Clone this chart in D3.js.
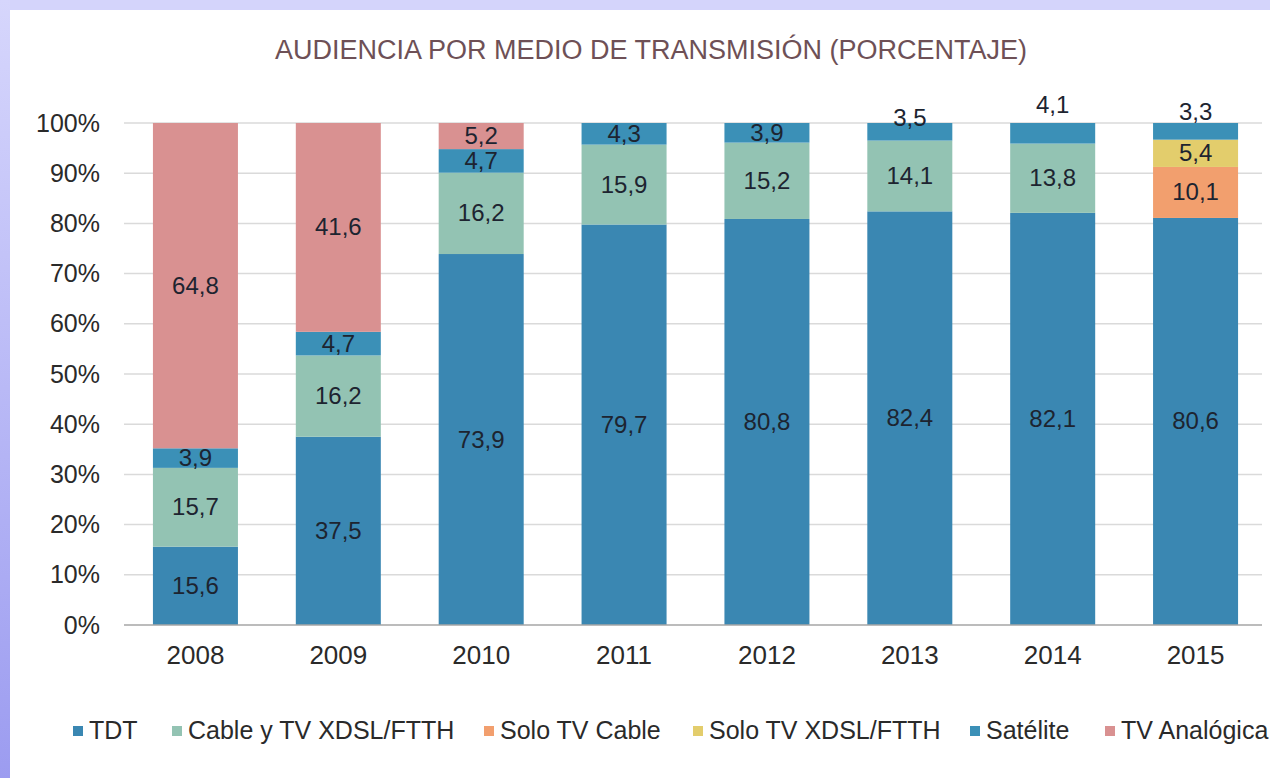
<!DOCTYPE html>
<html>
<head>
<meta charset="utf-8">
<script src="https://cdn.jsdelivr.net/npm/d3@7"></script>
<style>
  body { margin: 0; background: #fff; }
  svg { display: block; }
  text { font-family: "Liberation Sans", Arial, sans-serif; }
</style>
</head>
<body>
<div id="chart"></div>
<script>
var width = 1270,
	height = 778;

// data
var years = ['2008', '2009', '2010', '2011', '2012', '2013', '2014', '2015'];
var series = ['TDT', 'Cable y TV XDSL/FTTH', 'Solo TV Cable', 'Solo TV XDSL/FTTH', 'Satélite', 'TV Analógica'];
var tdt       = [15.6, 37.5, 73.9, 79.7, 80.8, 82.4, 82.1, 80.6];
var cableXdsl = [15.7, 16.2, 16.2, 15.9, 15.2, 14.1, 13.8, 0];
var soloCable = [0, 0, 0, 0, 0, 0, 0, 10.1];
var soloXdsl  = [0, 0, 0, 0, 0, 0, 0, 5.4];
var satelite  = [3.9, 4.7, 4.7, 4.3, 3.9, 3.5, 4.1, 3.3];
var analogica = [64.8, 41.6, 5.2, 0, 0, 0, 0, 0];
var yTicks = [0, 10, 20, 30, 40, 50, 60, 70, 80, 90, 100];

var colors = ['#3a87b2', '#93c3b3', '#f29f6e', '#e3cd6c', '#3b90b7', '#d99191'];

// manual nudges for labels excel pushed above the bar
var labelNudge = { '2013-Satélite': -14, '2014-Satélite': -28, '2015-Satélite': -19 };

var values = [tdt, cableXdsl, soloCable, soloXdsl, satelite, analogica];
var rows = years.map(function(y, i) {
	var r = { year: y }, total = 0;
	series.forEach(function(s, k) { r[s] = values[k][i]; total += values[k][i]; });
	r.total = total;
	return r;
});

var svg = d3.select('#chart').append('svg')
	.attr('width', width)
	.attr('height', height);

var defs = svg.append('defs');
var grad = defs.append('linearGradient').attr('id', 'side')
	.attr('x1', 0).attr('y1', 0).attr('x2', 0).attr('y2', 1);
grad.append('stop').attr('offset', '0%').attr('stop-color', '#d6d6fc');
grad.append('stop').attr('offset', '100%').attr('stop-color', '#9c9cf0');

// frame
svg.append('rect').attr('width', width).attr('height', 10).attr('fill', '#d4d4fb');
svg.append('rect').attr('width', 10).attr('height', height).attr('fill', 'url(#side)');

var x = d3.scaleBand()
	.domain(years)
	.range([124, 1267])
	.paddingInner(0.405)
	.paddingOuter(0.2025);

var y = d3.scaleLinear()
	.domain([0, 100])
	.range([625, 123]);

// title
svg.append('text')
	.attr('x', 651)
	.attr('y', 59)
	.attr('text-anchor', 'middle')
	.attr('font-size', 27)
	.attr('fill', '#6e5056')
	.text('AUDIENCIA POR MEDIO DE TRANSMISIÓN (PORCENTAJE)');

// grid
svg.append('g').selectAll('line')
	.data(yTicks.filter(function(t) { return t > 0; }))
	.enter().append('line')
	.attr('x1', 124).attr('x2', 1262)
	.attr('y1', function(d) { return y(d); })
	.attr('y2', function(d) { return y(d); })
	.attr('stroke', '#dadada')
	.attr('stroke-width', 1.5);

// y axis
var yAxis = svg.append('g')
	.attr('transform', 'translate(124,0)')
	.call(d3.axisLeft(y).tickValues(yTicks).tickSize(0).tickPadding(24)
		.tickFormat(function(d) { return d + '%'; }));
yAxis.select('.domain').remove();
yAxis.selectAll('text')
	.attr('font-size', 25)
	.attr('fill', '#2a2a2a')
	.attr('font-family', '"Liberation Sans", Arial, sans-serif');

// bars
var stack = d3.stack().keys(series)
	.value(function(d, key) { return d[key] / d.total * 100; });
var layers = stack(rows);

var layer = svg.append('g').selectAll('g')
	.data(layers)
	.enter().append('g')
	.attr('fill', function(d, i) { return colors[i]; });

layer.selectAll('rect')
	.data(function(d) { return d; })
	.enter().append('rect')
	.attr('x', function(d) { return x(d.data.year); })
	.attr('width', x.bandwidth())
	.attr('y', function(d) { return y(d[1]); })
	.attr('height', function(d) { return y(d[0]) - y(d[1]); });

// baseline
svg.append('line')
	.attr('x1', 124).attr('x2', 1262)
	.attr('y1', y(0)).attr('y2', y(0))
	.attr('stroke', '#a6a6a6')
	.attr('stroke-width', 1.5);

// value labels
layers.forEach(function(l) {
	svg.append('g').selectAll('text')
		.data(l.filter(function(d) { return d.data[l.key] > 0; }))
		.enter().append('text')
		.attr('x', function(d) { return x(d.data.year) + x.bandwidth() / 2; })
		.attr('y', function(d) {
			var n = labelNudge[d.data.year + '-' + l.key] || 0;
			return (y(d[0]) + y(d[1])) / 2 + 8 + n;
		})
		.attr('text-anchor', 'middle')
		.attr('font-size', 24)
		.attr('fill', '#1d2430')
		.text(function(d) { return String(d.data[l.key]).replace('.', ','); });
});

// x axis labels
var xAxis = svg.append('g')
	.attr('transform', 'translate(0,' + y(0) + ')')
	.call(d3.axisBottom(x).tickSize(0).tickPadding(21));
xAxis.select('.domain').remove();
xAxis.selectAll('text')
	.attr('font-size', 26)
	.attr('fill', '#2a2a2a')
	.attr('font-family', '"Liberation Sans", Arial, sans-serif');

// legend
var legendX = [73, 172, 484, 693, 970, 1105];
var legend = svg.append('g').selectAll('g')
	.data(series)
	.enter().append('g')
	.attr('transform', function(d, i) { return 'translate(' + legendX[i] + ',731)'; });

legend.append('rect')
	.attr('x', 0).attr('y', -5)
	.attr('width', 10).attr('height', 10)
	.attr('fill', function(d, i) { return colors[i]; });

legend.append('text')
	.attr('x', 16)
	.attr('y', 8)
	.attr('font-size', 25)
	.attr('fill', '#2a2a2a')
	.text(function(d) { return d; });
</script>
</body>
</html>
